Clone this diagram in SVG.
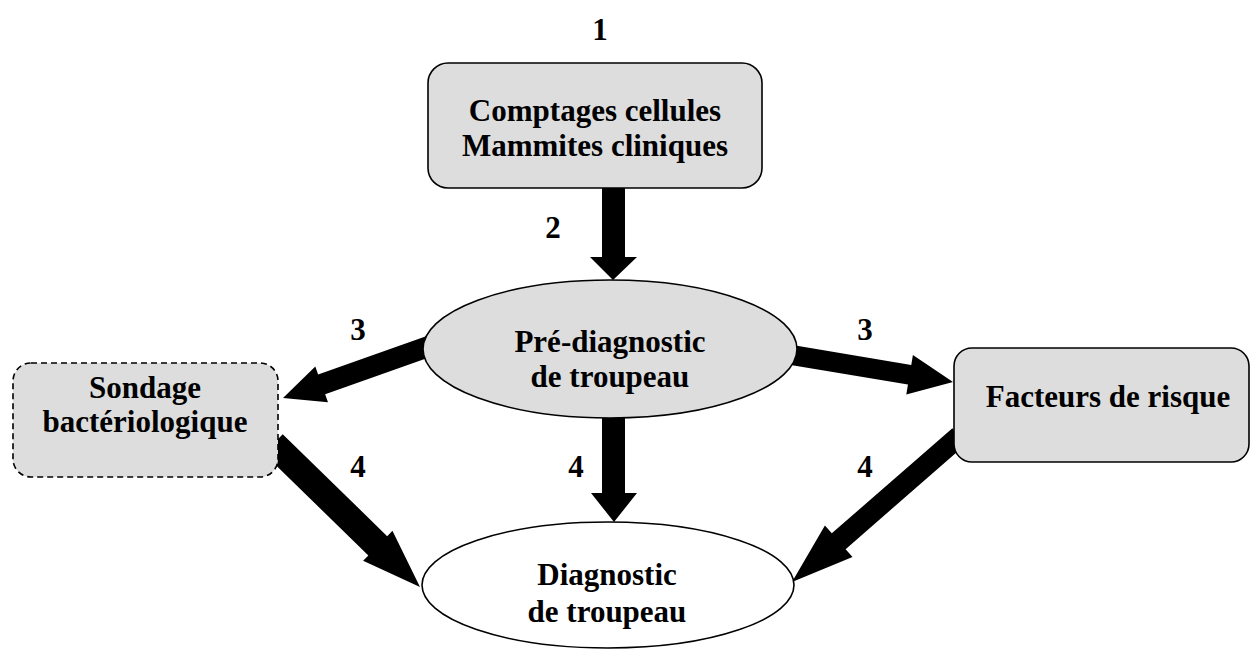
<svg xmlns="http://www.w3.org/2000/svg" width="1251" height="653" viewBox="0 0 1251 653">
<style>
.t{font-family:"Liberation Serif","Times New Roman",serif;font-weight:bold;font-size:31px;fill:#000;text-anchor:middle}
.g{fill:#dddddd;stroke:#000;stroke-width:1.6}
.w{fill:#fff;stroke:#000;stroke-width:1.6}
.a{fill:#000;stroke:none}
</style>
<rect width="1251" height="653" fill="#fff"/>
<g id="connectors">
<polygon class="a" points="602,180 625,180 625,257 637,257 613,280 590,257 602,257"/>
<polygon class="a" points="602,410 625,410 625,493 637,493 614,522 591,493 602,493"/>
<polygon class="a" transform="translate(283,398) rotate(160.5)" points="0,0 -41,-19 -41,-10.5 -160,-10.5 -160,10.5 -41,10.5 -41,19"/>
<polygon class="a" transform="translate(953,382) rotate(9.5)" points="0,0 -44,-20 -44,-10 -172,-10 -172,10 -44,10 -44,20"/>
<polygon class="a" transform="translate(420,587) rotate(44.3)" points="0,0 -59,-21 -59,-13.5 -205,-13.5 -205,13.5 -59,13.5 -59,21"/>
<polygon class="a" transform="translate(792,582) rotate(138.9)" points="0,0 -62,-21 -62,-10.5 -222,-10.5 -222,10.5 -62,10.5 -62,21"/>
<text class="t" x="600" y="40">1</text>
<text class="t" x="553" y="238">2</text>
<text class="t" x="358" y="340">3</text>
<text class="t" x="865" y="340">3</text>
<text class="t" x="358" y="477">4</text>
<text class="t" x="576" y="477">4</text>
<text class="t" x="865" y="477">4</text>
</g>
<g id="node-comptages">
<rect class="g" x="428" y="63" width="334" height="125" rx="20"/>
<text class="t" x="595" y="121">Comptages cellules</text>
<text class="t" x="595" y="156">Mammites cliniques</text>
</g>
<g id="node-prediagnostic">
<ellipse class="g" cx="610" cy="349" rx="187" ry="69"/>
<text class="t" x="610" y="352">Pré-diagnostic</text>
<text class="t" x="610" y="387">de troupeau</text>
</g>
<g id="node-sondage">
<rect class="g" x="13" y="363" width="265" height="114" rx="18" stroke-dasharray="6 4"/>
<text class="t" x="145" y="398">Sondage</text>
<text class="t" x="145" y="432">bactériologique</text>
</g>
<g id="node-facteurs">
<rect class="g" x="954" y="348" width="295" height="114" rx="18"/>
<text class="t" x="1108" y="407">Facteurs de risque</text>
</g>
<g id="node-diagnostic">
<ellipse class="w" cx="608" cy="585" rx="186" ry="63"/>
<text class="t" x="607" y="585">Diagnostic</text>
<text class="t" x="607" y="622">de troupeau</text>
</g>
</svg>
